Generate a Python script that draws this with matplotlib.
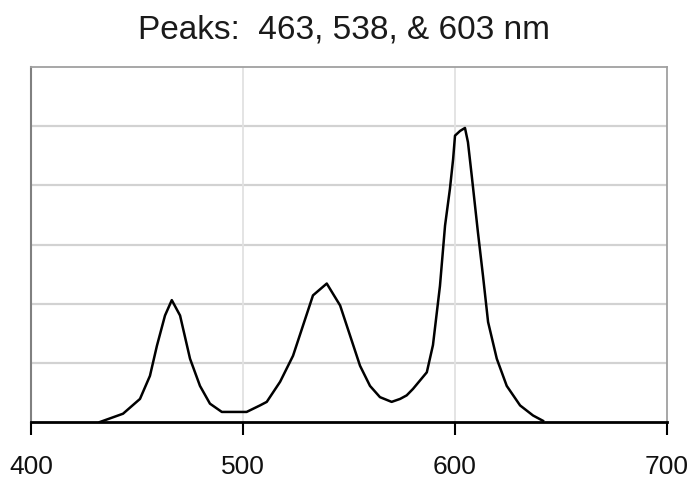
import matplotlib
matplotlib.use('Agg')
import matplotlib.pyplot as plt

# emission spectrum, wavelength in nm vs relative intensity
wavelength = [432.5, 443.4, 451.4, 456.1, 459.4, 463.2, 466.4, 470.3, 475.0,
              479.7, 484.4, 490.0, 501.7, 508.0, 511.2, 517.5, 523.6, 528.3,
              533.0, 539.5, 545.8, 550.5, 555.2, 559.9, 564.6, 570.1, 574.1,
              577.2, 580.2, 586.7, 589.6, 592.9, 595.3, 597.6, 599.1, 600.0,
              602.4, 604.7, 606.1, 607.9, 610.8, 613.2, 615.6, 619.7, 624.4,
              630.7, 636.8, 641.5]
intensity = [0.0, 0.14, 0.39, 0.78, 1.29, 1.80, 2.06, 1.80, 1.07,
             0.61, 0.31, 0.17, 0.17, 0.28, 0.34, 0.68, 1.12, 1.63,
             2.14, 2.34, 1.97, 1.46, 0.95, 0.61, 0.42, 0.34, 0.39,
             0.45, 0.56, 0.84, 1.30, 2.30, 3.32, 3.94, 4.44, 4.84,
             4.92, 4.97, 4.73, 4.16, 3.21, 2.47, 1.69, 1.07, 0.61,
             0.28, 0.11, 0.02]
peaks = [463, 538, 603]
x_ticks = [400, 500, 600, 700]
y_grid = [1, 2, 3, 4, 5]

fig = plt.figure(figsize=(6.94, 4.81), dpi=100)
ax = fig.add_axes([0.0447, 0.1206, 0.9164, 0.738])

for y in y_grid:
    ax.axhline(y, color='#d2d2d2', linewidth=1.6, zorder=1)
for x in x_ticks[1:-1]:
    ax.axvline(x, color='#e2e2e2', linewidth=1.3, zorder=1)

ax.plot(wavelength, intensity, color='black', linewidth=1.8, zorder=3)

ax.set_xlim(400, 700)
ax.set_ylim(0, 6)
ax.set_xticks(x_ticks)
ax.set_xticklabels([str(t) for t in x_ticks], fontfamily='Liberation Sans',
                   fontsize=19, color='#111111')
ax.set_yticks([])
ax.tick_params(axis='x', direction='out', length=9, width=1.5, pad=14,
               color='black')

ax.spines['bottom'].set_linewidth(2.0)
ax.spines['bottom'].set_color('black')
ax.spines['bottom'].set_zorder(4)
ax.spines['left'].set_color('#808080')
ax.spines['left'].set_linewidth(1.5)
for side in ('top', 'right'):
    ax.spines[side].set_color('#a0a0a0')
    ax.spines[side].set_linewidth(1.3)

title = 'Peaks:  {}, {}, & {} nm'.format(*peaks)
fig.text(0.495, 0.937, title, ha='center', va='center',
         fontfamily='Liberation Sans', fontsize=24, color='#1a1a1a')

fig.savefig('out.png', dpi=100)
